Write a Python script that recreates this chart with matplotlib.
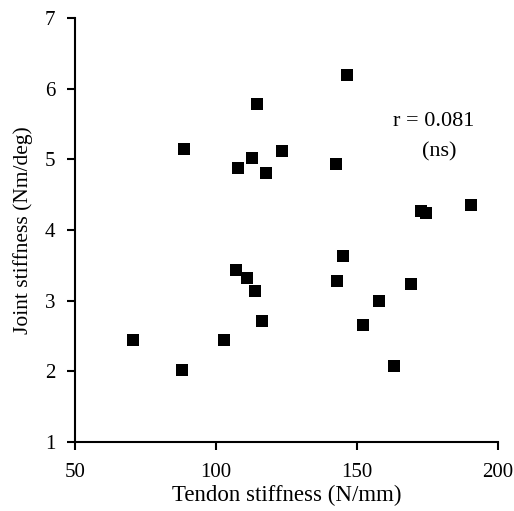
import matplotlib
matplotlib.use("Agg")
import matplotlib.pyplot as plt

# tendon stiffness (N/mm) vs joint stiffness (Nm/deg)
tendon = [70.6, 87.8, 102.9, 107.1, 111.1, 113.8, 116.2, 142.8, 144.9, 152.0,
          157.9, 163.1, 169.3, 88.8, 107.7, 112.6, 114.6, 117.7, 123.3, 142.4,
          146.3, 172.7, 174.5, 190.4]
joint = [2.45, 2.02, 2.45, 3.43, 3.32, 3.13, 2.71, 3.28, 3.63, 2.66,
         2.99, 2.07, 3.23, 5.15, 4.88, 5.02, 5.78, 4.80, 5.11, 4.93,
         6.19, 4.27, 4.24, 4.35]

x_ticks = [50, 100, 150, 200]
y_ticks = [1, 2, 3, 4, 5, 6, 7]

plt.rcParams['font.family'] = ['Liberation Serif', 'DejaVu Serif']

fig = plt.figure(figsize=(5.14, 5.11), dpi=100)
ax = fig.add_axes([0.146, 0.135, 0.823, 0.830])

ax.scatter(tendon, joint, marker='s', s=78, color='black', linewidths=0)

ax.set_xlim(50, 200)
ax.set_ylim(1, 7)
ax.set_xticks(x_ticks)
ax.set_yticks(y_ticks)
ax.spines['top'].set_visible(False)
ax.spines['right'].set_visible(False)
ax.spines['left'].set_linewidth(1.5)
ax.spines['bottom'].set_linewidth(1.5)
ax.tick_params(direction='out', length=6, width=1.5, labelsize=15)
ax.tick_params(axis='y', pad=8)
ax.tick_params(axis='x', pad=9)

ax.set_xlabel("Tendon stiffness (N/mm)", fontsize=16.5)
ax.set_ylabel("Joint stiffness (Nm/deg)", fontsize=15.5)
ax.xaxis.label.set_va('center')
ax.yaxis.label.set_va('center')
ax.xaxis.set_label_coords(0.5, -0.125)
ax.yaxis.set_label_coords(-0.123, 0.5)

ax.text(177.3, 5.53, "r = 0.081", ha='center', va='center', fontsize=16)
ax.text(179, 5.10, "(ns)", ha='center', va='center', fontsize=16)

fig.savefig("out.png", dpi=100)
